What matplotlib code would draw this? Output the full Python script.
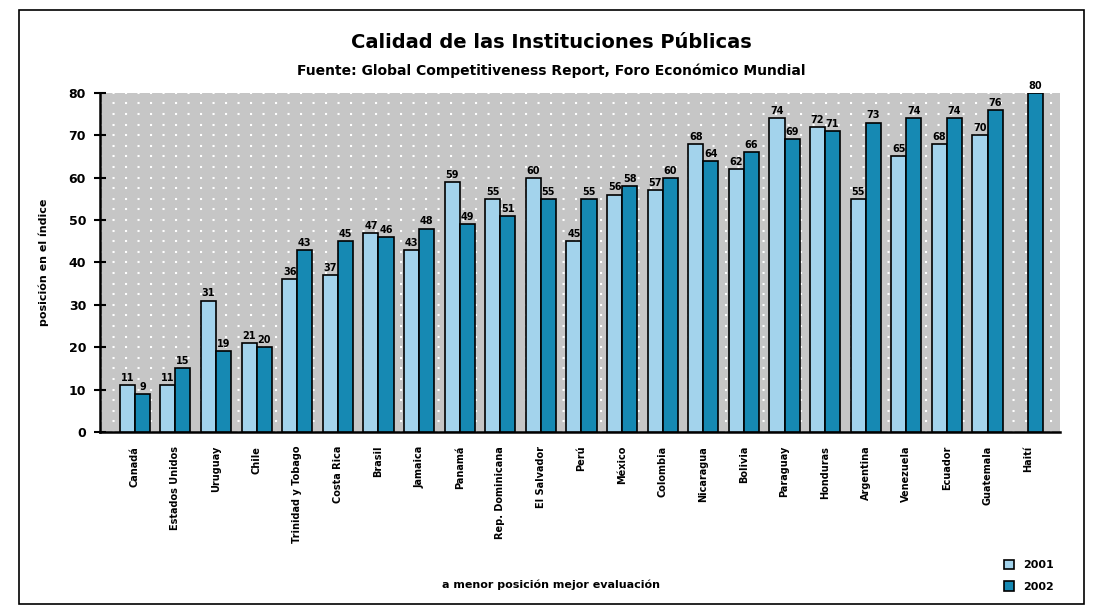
import matplotlib.pyplot as plt
import numpy as np
from matplotlib.patches import Rectangle

# ================================
# %% Data
# ++++++++++++++++++++++++++++++++

countries = [
    "Canadá", "Estados Unidos", "Uruguay", "Chile", "Trinidad y Tobago",
    "Costa Rica", "Brasil", "Jamaica", "Panamá", "Rep. Dominicana",
    "El Salvador", "Perú", "México", "Colombia", "Nicaragua", "Bolivia",
    "Paraguay", "Honduras", "Argentina", "Venezuela", "Ecuador",
    "Guatemala", "Haití",
]
pos_2001 = [11, 11, 31, 21, 36, 37, 47, 43, 59, 55, 60, 45, 56, 57, 68, 62,
            74, 72, 55, 65, 68, 70, np.nan]
pos_2002 = [9, 15, 19, 20, 43, 45, 46, 48, 49, 51, 55, 55, 58, 60, 64, 66,
            69, 71, 73, 74, 74, 76, 80]
series_names = ["2001", "2002"]

# ================================
# %% Plot
# ++++++++++++++++++++++++++++++++

c01 = "#a3d3ec"
c02 = "#1689b3"
w = 0.37

fig = plt.figure(figsize=(11.02, 6.11), dpi=100)
ax = fig.add_axes([0.0907, 0.293, 0.871, 0.555])
ax.set_facecolor("#c6c6c6")

x = np.arange(len(countries))
b1 = ax.bar(x - w / 2, pos_2001, w, color=c01, edgecolor="black", lw=1.2, label=series_names[0], zorder=3)
b2 = ax.bar(x + w / 2, pos_2002, w, color=c02, edgecolor="black", lw=1.2, label=series_names[1], zorder=3)

for bars, vals in ((b1, pos_2001), (b2, pos_2002)):
    for rect, v in zip(bars, vals):
        if np.isnan(v):
            continue
        ax.text(rect.get_x() + rect.get_width() / 2, v + 0.5, f"{v:.0f}",
                ha="center", va="bottom", fontsize=7, fontweight="bold", zorder=4)

ax.set_ylim(0, 80)
ax.set_xlim(-0.86, len(countries) - 1 + 0.78)
ax.set_yticks(np.arange(0, 81, 10))
ax.set_yticks(np.arange(0, 80, 2.5), minor=True)
ax.grid(axis="y", which="both", color="white", ls=(0, (1, 5)), lw=1.5, zorder=1)
ax.tick_params(axis="y", which="major", direction="inout", length=8, width=1.5, labelsize=9, pad=6)
ax.tick_params(axis="y", which="minor", length=0)
ax.set_xticks(x)
ax.set_xticklabels(countries, rotation=90, fontsize=7, fontweight="bold", va="top")
ax.tick_params(axis="x", length=0, pad=10)
for lab in ax.get_yticklabels():
    lab.set_fontweight("bold")
for side in ("top", "right"):
    ax.spines[side].set_visible(False)
ax.spines["left"].set_linewidth(1.8)
ax.spines["bottom"].set_linewidth(1.8)

ax.set_ylabel("posición en el índice", fontsize=8, fontweight="bold", labelpad=14)

fig.text(0.5, 0.930, "Calidad de las Instituciones Públicas", ha="center", va="center",
         fontsize=14, fontweight="bold")
fig.text(0.5, 0.885, "Fuente: Global Competitiveness Report, Foro Económico Mundial",
         ha="center", va="center", fontsize=10, fontweight="bold")
fig.text(0.5, 0.043, "a menor posición mejor evaluación", ha="center", va="center",
         fontsize=8, fontweight="bold")

fig.legend(handles=[b1, b2], loc="lower right", bbox_to_anchor=(0.965, 0.015), frameon=False,
           prop={"weight": "bold", "size": 8}, handlelength=0.9, handleheight=0.9, labelspacing=1.0)

fig.patches.append(Rectangle((0.017, 0.012), 0.967, 0.972, transform=fig.transFigure,
                             fill=False, edgecolor="black", lw=1.2))

fig.savefig("out.png")
